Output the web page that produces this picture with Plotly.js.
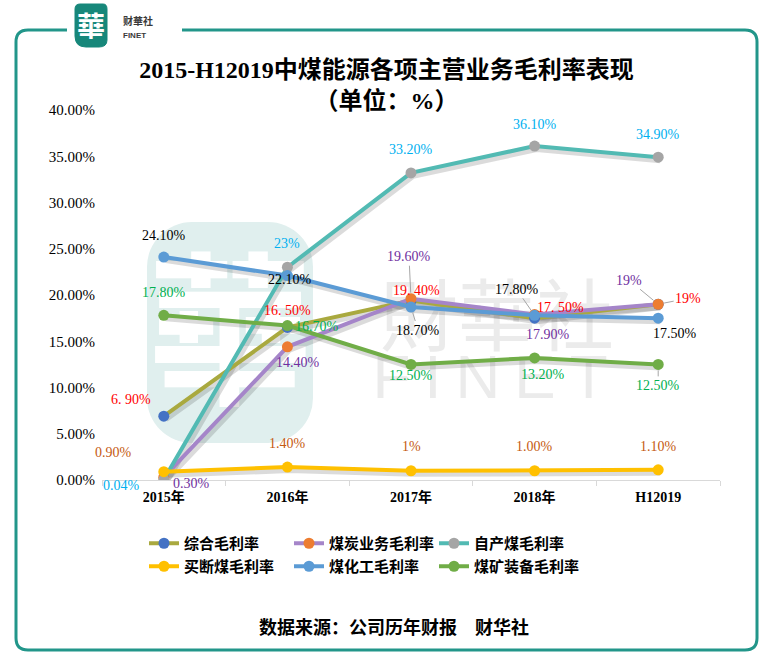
<!DOCTYPE html>
<html>
<head>
<meta charset="utf-8">
<script src="https://cdn.plot.ly/plotly-3.0.1.min.js"></script>
<style>html,body{margin:0;padding:0;background:#fff;}#chart{width:773px;height:663px;}</style>
</head>
<body>
<div id="chart"></div>
<script>
// ---------- data ----------
var categories = ['2015年', '2016年', '2017年', '2018年', 'H12019'];
var seriesNames = ['综合毛利率', '煤炭业务毛利率', '自产煤毛利率', '买断煤毛利率', '煤化工毛利率', '煤矿装备毛利率'];
var zongheValues   = [6.9, 16.5, 19.4, 17.5, 19.0];
var meitanValues   = [0.3, 14.4, 19.6, 17.9, 19.0];
var zichanValues   = [0.04, 23.0, 33.2, 36.1, 34.9];
var maiduanValues  = [0.9, 1.4, 1.0, 1.0, 1.1];
var meihuagongValues = [24.1, 22.1, 18.7, 17.8, 17.5];
var zhuangbeiValues  = [17.8, 16.7, 12.5, 13.2, 12.5];
var zongheLabels   = ['6. 90%', '16. 50%', '19. 40%', '17. 50%', '19%'];
var meitanLabels   = ['0.30%', '14.40%', '19.60%', '17.90%', '19%'];
var zichanLabels   = ['0.04%', '23%', '33.20%', '36.10%', '34.90%'];
var maiduanLabels  = ['0.90%', '1.40%', '1%', '1.00%', '1.10%'];
var meihuagongLabels = ['24.10%', '22.10%', '18.70%', '17.80%', '17.50%'];
var zhuangbeiLabels  = ['17.80%', '16.70%', '12.50%', '13.20%', '12.50%'];
var yTicks = [0, 5, 10, 15, 20, 25, 30, 35, 40];
var yTickText = ['0.00%', '5.00%', '10.00%', '15.00%', '20.00%', '25.00%', '30.00%', '35.00%', '40.00%'];

// ---------- styles ----------
var W = 773, H = 663;
var L = 102, R = 720, T = 110, B = 480;
var serif = 'Liberation Serif, Times New Roman, Noto Sans CJK SC, serif';
var cjk = 'Liberation Serif, Noto Sans CJK SC, sans-serif';

var series = [
  {vals: zongheValues, labels: zongheLabels, line: '#a9a93f', marker: '#4472C4', lab: '#FF0000', legend: 'legend',
   off: [[-33,-17],[0,-17],[5,-10],[26,-11],[30,-6]], lead: [0,0,0,0,1]},
  {vals: meitanValues, labels: meitanLabels, line: '#a585c9', marker: '#ED7D31', lab: '#7030A0', legend: 'legend',
   off: [[28,6],[11,16],[-2,-42],[13,20],[-29,-24]], lead: [0,0,1,0,1]},
  {vals: zichanValues, labels: zichanLabels, line: '#52bab3', marker: '#A5A5A5', lab: '#00B0F0', legend: 'legend',
   off: [[-42,6],[0,-24],[0,-23],[0,-22],[0,-23]], lead: [0,0,0,0,0]},
  {vals: maiduanValues, labels: maiduanLabels, line: '#FFC000', marker: '#FFC000', lab: '#C55A11', legend: 'legend2',
   off: [[-50,-19],[0,-24],[0,-24],[0,-24],[0,-23]], lead: [0,0,0,0,0]},
  {vals: meihuagongValues, labels: meihuagongLabels, line: '#5B9BD5', marker: '#5B9BD5', lab: '#000000', legend: 'legend2',
   off: [[0,-22],[3,4],[7,23],[-18,-26],[17,15]], lead: [0,0,1,1,0]},
  {vals: zhuangbeiValues, labels: zhuangbeiLabels, line: '#70AD47', marker: '#70AD47', lab: '#00B050', legend: 'legend2',
   off: [[0,-23],[30,1],[0,11],[8,17],[0,21]], lead: [0,0,0,0,1]}
];

// shadow traces on base axes (x,y), real traces on overlay axes (x2,y2)
var traces = [];
series.forEach(function(s, i) {
  traces.push({
    type: 'scatter', mode: 'lines', x: categories, y: s.vals, xaxis: 'x', yaxis: 'y',
    line: {color: 'rgba(0,0,0,0.14)', width: 6}, showlegend: false, hoverinfo: 'skip'
  });
});
series.forEach(function(s, i) {
  traces.push({
    type: 'scatter', mode: 'lines+markers', name: seriesNames[i], x: categories, y: s.vals,
    xaxis: 'x2', yaxis: 'y2', legend: s.legend,
    line: {color: s.line, width: 4}, marker: {color: s.marker, size: 11}
  });
});

var annotations = [];
series.forEach(function(s) {
  s.vals.forEach(function(v, j) {
    annotations.push({
      xref: 'x2', yref: 'y2', x: categories[j], y: v, text: s.labels[j],
      showarrow: true, ax: s.off[j][0], ay: s.off[j][1],
      arrowhead: 0, arrowwidth: 1, standoff: 6,
      arrowcolor: s.lead[j] ? '#a6a6a6' : 'rgba(0,0,0,0)',
      font: {family: serif, size: 14, color: s.lab}
    });
  });
});

// helpers pixel -> paper
function px(x) { return (x - L) / (R - L); }
function py(y) { return (B - y) / (B - T); }

// border
var bx0 = 16, by0 = 30, bx1 = 757, by1 = 650, r = 12;
function P(x, y) { return px(x) + ',' + py(y); }
var borderPath = 'M' + P(67, by0) + ' L' + P(bx0 + r, by0) + ' Q' + P(bx0, by0) + ' ' + P(bx0, by0 + r) +
  ' L' + P(bx0, by1 - r) + ' Q' + P(bx0, by1) + ' ' + P(bx0 + r, by1) +
  ' L' + P(bx1 - r, by1) + ' Q' + P(bx1, by1) + ' ' + P(bx1, by1 - r) +
  ' L' + P(bx1, by0 + r) + ' Q' + P(bx1, by0) + ' ' + P(bx1 - r, by0) + ' L' + P(182, by0);
var logoPath = 'M' + P(80, 4) + ' L' + P(103, 4) + ' Q' + P(107, 4) + ' ' + P(107, 9) + ' L' + P(107, 40) +
  ' Q' + P(107, 47) + ' ' + P(99, 47) + ' L' + P(86, 47) + ' Q' + P(75, 47) + ' ' + P(75, 36) +
  ' L' + P(75, 9) + ' Q' + P(75, 4) + ' ' + P(80, 4) + ' Z';

var shapes = [
  {type: 'path', xref: 'paper', yref: 'paper', path: borderPath, line: {color: '#22968a', width: 3}},
  {type: 'path', xref: 'paper', yref: 'paper', path: logoPath, fillcolor: '#17877a', line: {color: '#17877a', width: 1}}
];

// watermark (below traces)
var wm = '<svg xmlns="http://www.w3.org/2000/svg" width="773" height="663" viewBox="0 0 773 663">' +
  '<rect x="147" y="222" width="166" height="221" rx="45" ry="45" fill="#e0efee"/>' +
  '<text x="230" y="392" text-anchor="middle" font-family="Noto Sans CJK TC, sans-serif" font-weight="bold" font-size="165" fill="#ffffff">華</text>' +
  '<text x="497" y="345" text-anchor="middle" font-family="Noto Sans CJK TC, sans-serif" font-size="78" fill="#ebebeb">財華社</text>' +
  '<text x="497" y="398" text-anchor="middle" font-family="Liberation Sans, Arial, sans-serif" font-size="62" letter-spacing="14" fill="#ebebeb">FINET</text>' +
  '</svg>';
var images = [{
  source: 'data:image/svg+xml;charset=utf-8,' + encodeURIComponent(wm),
  xref: 'paper', yref: 'paper', x: px(0), y: py(0), sizex: W / (R - L), sizey: H / (B - T),
  xanchor: 'left', yanchor: 'top', sizing: 'stretch', layer: 'below'
}];

annotations.push(
  {xref: 'paper', yref: 'paper', x: px(91), y: py(25), xanchor: 'center', yanchor: 'middle', text: '<b>華</b>', showarrow: false,
   font: {family: 'Noto Sans CJK TC, serif', size: 28, color: '#ffffff'}},
  {xref: 'paper', yref: 'paper', x: px(121), y: py(20), xanchor: 'left', yanchor: 'middle', text: '<b>财華社</b>', showarrow: false,
   font: {family: 'Noto Sans CJK SC', size: 10, color: '#3a3a3a'}},
  {xref: 'paper', yref: 'paper', x: px(121), y: py(35), xanchor: 'left', yanchor: 'middle', text: '<b>FINET</b>', showarrow: false,
   font: {family: 'Liberation Sans', size: 8, color: '#3a3a3a'}},
  {xref: 'paper', yref: 'paper', x: px(394), y: py(627), xanchor: 'center', yanchor: 'middle', text: '<b>数据来源：公司历年财报　财华社</b>', showarrow: false,
   font: {family: cjk, size: 18, color: '#000'}}
);

var layout = {
  width: W, height: H,
  margin: {l: L, r: W - R, t: T, b: H - B},
  paper_bgcolor: '#ffffff', plot_bgcolor: 'rgba(0,0,0,0)',
  title: {text: '<b>2015-H12019中煤能源各项主营业务毛利率表现<br>（单位：%）</b>', x: 0.5, xanchor: 'center',
          y: 1 - 78 / H, yanchor: 'middle', font: {family: cjk, size: 24, color: '#000'}},
  xaxis: {type: 'category', range: [-0.5 - 2 / 123.6, 4.5 - 2 / 123.6], visible: false, fixedrange: true},
  yaxis: {range: [3 / 9.25, 40 + 3 / 9.25], visible: false, fixedrange: true},
  xaxis2: {type: 'category', overlaying: 'x', anchor: 'y2', range: [-0.5, 4.5],
           showline: true, linecolor: '#d9d9d9', linewidth: 1, ticks: 'outside', tickson: 'boundaries',
           ticklen: 5, tickcolor: '#d9d9d9', showgrid: false, zeroline: false, ticklabelstandoff: 4,
           tickfont: {family: cjk, size: 14, color: '#000', weight: 'bold'}},
  yaxis2: {overlaying: 'y', anchor: 'x2', side: 'left', range: [0, 40], tickmode: 'array', tickvals: yTicks,
           ticktext: yTickText, showgrid: false, zeroline: false, showline: false,
           ticks: '', ticklabelstandoff: 6, tickfont: {family: serif, size: 15, color: '#000'}},
  legend: {orientation: 'h', xref: 'container', yref: 'container', x: 144 / W, y: 1 - 527 / H,
           xanchor: 'left', yanchor: 'top', entrywidth: 100, entrywidthmode: 'pixels', bgcolor: 'rgba(0,0,0,0)',
           font: {family: cjk, size: 15, color: '#000', weight: 'bold'}, traceorder: 'normal'},
  legend2: {orientation: 'h', xref: 'container', yref: 'container', x: 144 / W, y: 1 - 550 / H,
           xanchor: 'left', yanchor: 'top', entrywidth: 100, entrywidthmode: 'pixels', bgcolor: 'rgba(0,0,0,0)',
           font: {family: cjk, size: 15, color: '#000', weight: 'bold'}, traceorder: 'normal'},
  shapes: shapes,
  images: images,
  annotations: annotations,
  showlegend: true
};

Plotly.newPlot('chart', traces, layout, {displayModeBar: false, staticPlot: true});
</script>
</body>
</html>
